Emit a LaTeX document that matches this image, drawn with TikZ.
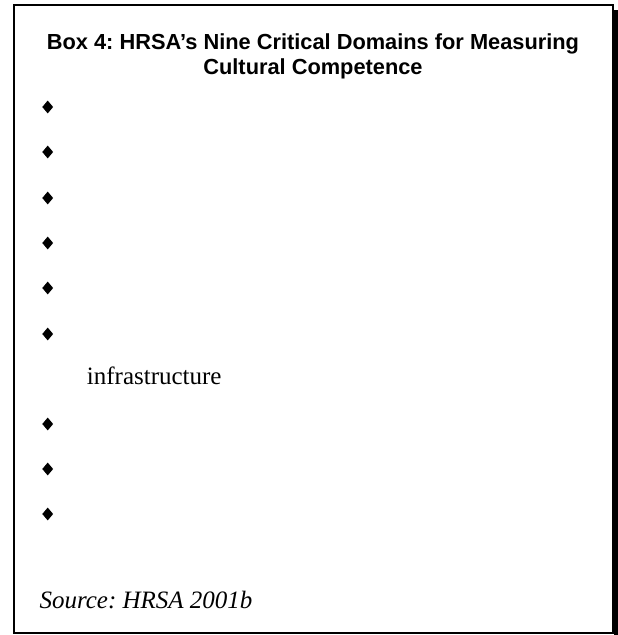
\documentclass[tikz,border=0pt]{standalone}
\usepackage{fontspec}
\setmainfont{Liberation Serif}
\newfontfamily\titlefont{Liberation Sans}
\usepackage{tikz}
\usetikzlibrary{positioning, calc}
\usetikzlibrary{shapes.geometric}
\frenchspacing

\tikzset{
    bulletmark/.style = {diamond, fill = black, inner sep = 0pt, minimum width = 11pt, minimum height = 13pt},
    boxtitle/.style = {font = \titlefont\bfseries\fontsize{21.8}{25}\selectfont, inner sep = 0pt, anchor = base},
    boxtext/.style = {font = \fontsize{25}{29}\selectfont, inner sep = 0pt, anchor = base west}
}

\begin{document}
\begin{tikzpicture}[x = 1pt, y = 1pt]
                \useasboundingbox (0,0) rectangle (618,635);
                % frame with shadow on the right
                \fill (614,625) rectangle (618,0);
                \draw[line width = 2pt] (13.5,630) rectangle (612.5,1.5);
                \draw[line width = 1pt] (13,630) -- (13,1.5);
                % heading
                \node[boxtitle] (title1) at (313,585) {Box 4: HRSA’s Nine Critical Domains for Measuring};
                \node[boxtitle] (title2) at (313,560) {Cultural Competence};
                % bullets
                \foreach \y [count = \i] in {107,152,198,243,288,334,424,469,514}
                    \node[bulletmark] (b\i) at (47.7,{635-\y}) {};
                \node[boxtext] (infra) at (86.7,250) {infrastructure};
                \node[boxtext] (source) at (39.3,26.7) {\itshape Source: HRSA 2001b};
            \end{tikzpicture}
\end{document}
